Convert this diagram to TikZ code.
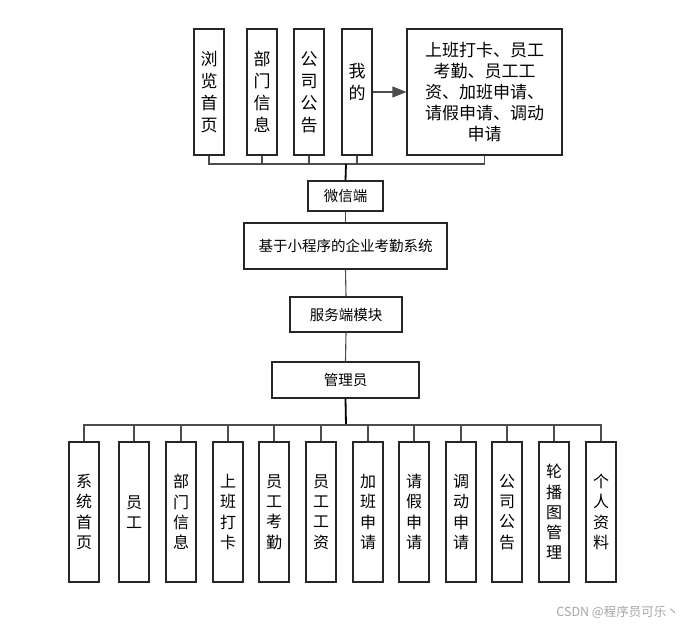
\documentclass[tikz,border=0pt]{standalone}
\usepackage{fontspec}
\setmainfont{Noto Sans CJK SC}
\usetikzlibrary{arrows.meta}
\begin{document}
\begin{tikzpicture}[x=1pt,y=-1pt,
  box/.style={draw=black!85,line width=1.1pt,inner sep=0pt,align=center,fill=white},
  topv/.style={box,minimum width=30pt,minimum height=126pt,font=\fontsize{17}{22}\selectfont},
  botv/.style={box,minimum width=30pt,minimum height=140pt,font=\fontsize{16}{20.3}\selectfont},
  mid/.style={box,font=\fontsize{14.5}{18}\selectfont},
  conn/.style={draw=black!70,line width=1.1pt},
  thickconn/.style={draw=black,line width=1.8pt}]
\useasboundingbox (0,0) rectangle (689,626);

% top row
\node[topv] (t1) at (209,92) {浏\\览\\首\\页};
\node[topv] (t2) at (262,92) {部\\门\\信\\息};
\node[topv] (t3) at (309,92) {公\\司\\公\\告};
\node[topv] (t4) at (357,92) {我\\的\\\mbox{}};
\node[box,minimum width=155pt,minimum height=126pt,font=\fontsize{17}{21}\selectfont] (big) at (484.5,92)
  {上班打卡、员工\\考勤、员工工\\资、加班申请、\\请假申请、调动\\申请};
\draw[conn,-{Triangle[length=14pt,width=11pt]}] (t4.east) -- (big.west);

% middle
\node[mid,minimum width=75pt,minimum height=30pt] (wx) at (345.5,196) {微信端};
\node[mid,minimum width=203pt,minimum height=46pt] (sys) at (345.5,246) {基于小程序的企业考勤系统};
\node[mid,minimum width=112pt,minimum height=35pt] (srv) at (346,314.5) {服务端模块};
\node[mid,minimum width=147pt,minimum height=36pt] (adm) at (345.5,380) {管理员};

\coordinate (tb) at (346,164);
\foreach \n in {t1,t2,t3,t4,big} \draw[conn] (\n.south) |- (tb);
\draw[thickconn] (tb) -- (wx.north);
\draw[conn] (wx.south) -- (sys.north);
\draw[conn] (sys.south) -- (srv.north);
\draw[conn] (srv.south) -- (adm.north);

% bottom row
\node[botv] (b1) at (84,512) {系\\统\\首\\页};
\node[botv] (b2) at (134,512) {员\\工};
\node[botv] (b3) at (181,512) {部\\门\\信\\息};
\node[botv] (b4) at (228,512) {上\\班\\打\\卡};
\node[botv] (b5) at (274,512) {员\\工\\考\\勤};
\node[botv] (b6) at (321,512) {员\\工\\工\\资};
\node[botv] (b7) at (368,512) {加\\班\\申\\请};
\node[botv] (b8) at (414,512) {请\\假\\申\\请};
\node[botv] (b9) at (461,512) {调\\动\\申\\请};
\node[botv] (b10) at (507,512) {公\\司\\公\\告};
\node[botv] (b11) at (554,512) {轮\\播\\图\\管\\理};
\node[botv] (b12) at (601,512) {个\\人\\资\\料};

\coordinate (bb) at (346,425);
\draw[thickconn] (adm.south) -- (bb);
\foreach \n in {b1,b2,b3,b4,b5,b6,b7,b8,b9,b10,b11,b12} \draw[conn] (\n.north) |- (bb);

% watermark
\node[text=black!35,font=\fontsize{12.5}{14}\selectfont,inner sep=0pt,anchor=east] (wm) at (679,612) {CSDN @程序员可乐丶};
\end{tikzpicture}
\end{document}
